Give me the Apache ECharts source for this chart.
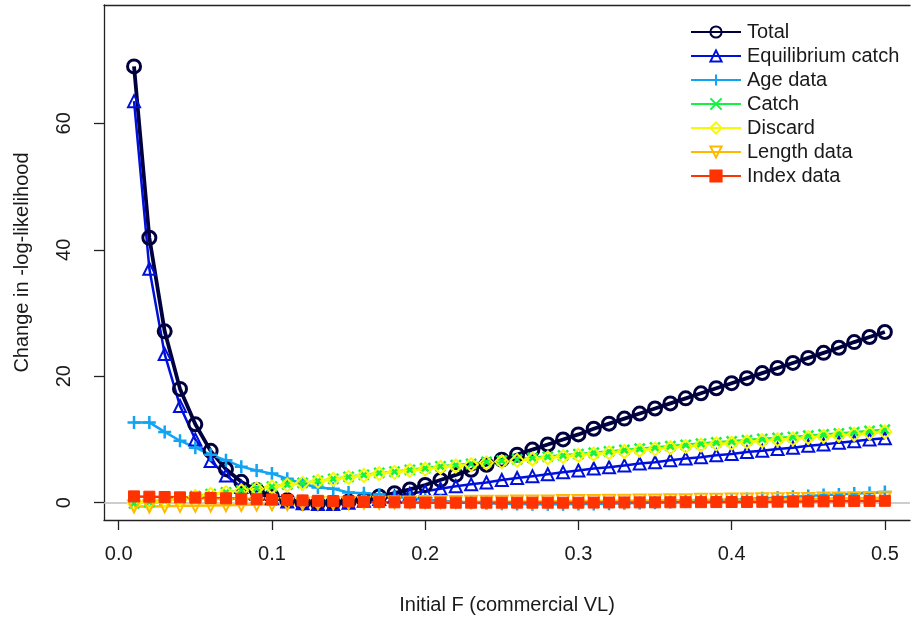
<!DOCTYPE html>
<html>
<head>
<meta charset="utf-8">
<script src="https://cdn.jsdelivr.net/npm/echarts@6/dist/echarts.min.js"></script>
<style>html,body{margin:0;padding:0;background:#fff}#c{width:911px;height:621px}</style>
</head>
<body>
<div id="c"></div>
<script>
const F = [0.01,0.02,0.03,0.04,0.05,0.06,0.07,0.08,0.09,0.10,
           0.11,0.12,0.13,0.14,0.15,0.16,0.17,0.18,0.19,0.20,
           0.21,0.22,0.23,0.24,0.25,0.26,0.27,0.28,0.29,0.30,
           0.31,0.32,0.33,0.34,0.35,0.36,0.37,0.38,0.39,0.40,
           0.41,0.42,0.43,0.44,0.45,0.46,0.47,0.48,0.49,0.50];
const total = [69.0,41.9,27.1,18.0,12.4,8.2,5.3,3.3,2.0,1.0,
               0.4,0.0,-0.1,0.0,0.2,0.5,1.0,1.5,2.1,2.8,
               3.6,4.4,5.2,6.0,6.8,7.6,8.4,9.2,10.0,10.8,
               11.7,12.5,13.3,14.1,14.9,15.7,16.5,17.3,18.1,18.9,
               19.7,20.5,21.3,22.1,22.9,23.7,24.5,25.4,26.2,27.0];
const equilibriumCatch = [63.5,37.0,23.5,15.3,10.0,6.6,4.3,2.5,1.4,0.7,
               0.2,-0.1,-0.2,-0.2,0.0,0.3,0.6,1.0,1.4,1.8,
               2.2,2.6,2.9,3.2,3.6,3.9,4.2,4.5,4.8,5.1,
               5.4,5.6,5.9,6.2,6.4,6.7,7.0,7.2,7.5,7.7,
               8.0,8.2,8.5,8.7,9.0,9.2,9.5,9.7,10.0,10.2];
const ageData = [12.7,12.7,11.2,9.8,8.7,7.6,6.7,5.7,5.1,4.6,
               3.8,3.0,2.4,2.2,1.6,1.5,1.3,0.95,0.7,0.5,
               0.3,0.15,0.0,-0.1,-0.15,-0.2,-0.25,-0.25,-0.25,-0.2,
               -0.2,-0.15,-0.1,-0.05,0.0,0.1,0.2,0.3,0.4,0.5,
               0.6,0.7,0.8,0.95,1.05,1.2,1.3,1.45,1.55,1.7];
const catchData = [-0.1,0.1,0.35,0.65,1.05,1.35,1.65,1.95,2.25,2.55,
               2.85,3.15,3.45,3.75,4.1,4.4,4.7,4.9,5.2,5.45,
               5.75,5.95,6.15,6.45,6.65,6.85,7.1,7.3,7.5,7.7,
               7.9,8.1,8.35,8.55,8.75,8.95,9.15,9.35,9.55,9.7,
               9.9,10.1,10.25,10.4,10.6,10.8,10.95,11.15,11.35,11.55];
const discard = [-0.1,0.1,0.3,0.6,1.0,1.3,1.6,1.9,2.2,2.5,
               2.8,3.1,3.4,3.7,4.0,4.3,4.6,4.8,5.1,5.3,
               5.6,5.8,6.0,6.3,6.5,6.7,6.9,7.1,7.3,7.5,
               7.7,7.9,8.1,8.3,8.5,8.7,8.9,9.1,9.3,9.4,
               9.6,9.8,9.95,10.1,10.3,10.5,10.65,10.8,11.0,11.2];
const lengthData = [-0.6,-0.6,-0.55,-0.5,-0.5,-0.45,-0.4,-0.35,-0.3,-0.25,
               -0.2,-0.15,-0.1,-0.1,-0.05,0.0,0.0,0.05,0.05,0.1,
               0.1,0.1,0.15,0.15,0.15,0.2,0.2,0.2,0.25,0.25,
               0.25,0.3,0.3,0.35,0.35,0.4,0.4,0.45,0.45,0.5,
               0.5,0.55,0.55,0.6,0.6,0.65,0.65,0.7,0.75,0.8];
const indexData = [1.0,0.95,0.9,0.85,0.8,0.75,0.7,0.62,0.55,0.5,
               0.42,0.36,0.3,0.25,0.2,0.15,0.1,0.06,0.03,0.0,
               0.0,0.0,0.0,0.0,0.0,0.0,0.0,0.0,0.0,0.0,
               0.02,0.03,0.04,0.05,0.06,0.07,0.08,0.09,0.1,0.11,
               0.12,0.14,0.16,0.18,0.2,0.22,0.24,0.26,0.28,0.3];
const seriesNames = ['Total','Equilibrium catch','Age data','Catch','Discard','Length data','Index data'];
const xTicks = [0, 0.1, 0.2, 0.3, 0.4, 0.5];
const yTicks = [0, 20, 40, 60];

const FONT = 'Liberation Sans, Arial, sans-serif';
const TXT = '#1a1a1a';
const AX = '#222';
const X_MIN = -0.0096, X_MAX = 0.5164, Y_MIN = -2.736, Y_MAX = 78.71;
const pairs = arr => F.map((f, i) => [f, arr[i]]);
const PLUS = 'path://M5,0L5,10M0,5L10,5';
const CROSS = 'path://M0,0L10,10M10,0L0,10';
const DOWNTRI = 'path://M0,0L10,0L5,8.66Z';

function mk(name, data, color, symbol, size, lw, bw, filled) {
  return {
    name, type: 'line', data: pairs(data), xAxisIndex: 0, yAxisIndex: 0,
    clip: false, symbol, symbolSize: size, showAllSymbol: true,
    lineStyle: { color, width: lw },
    itemStyle: { color: filled ? color : 'rgba(0,0,0,0)', borderColor: color, borderWidth: bw },
    emphasis: { disabled: true }
  };
}

const series = [
  mk(seriesNames[0], total, '#00003F', 'circle', 13, 3.8, 3, false),
  mk(seriesNames[1], equilibriumCatch, '#0010DB', 'triangle', 12, 2.5, 2, false),
  mk(seriesNames[2], ageData, '#10A4F2', PLUS, 13, 2.5, 2.5, false),
  mk(seriesNames[3], catchData, '#13F240', CROSS, 10, 2.5, 2.5, false),
  mk(seriesNames[4], discard, '#F6F905', 'diamond', 13, 2.5, 2, false),
  mk(seriesNames[5], lengthData, '#FFBA00', DOWNTRI, 12, 2.5, 2, false),
  mk(seriesNames[6], indexData, '#FF3300', 'rect', 11, 2.5, 1, true)
];
series[0].markLine = {
  silent: true, symbol: ['none', 'none'], label: { show: false },
  lineStyle: { color: '#bdbdbd', width: 1.5, type: 'solid' },
  data: [{ yAxis: 0 }],
  z: 1
};

const chart = echarts.init(document.getElementById('c'), null, { renderer: 'canvas' });
chart.setOption({
  animation: false,
  backgroundColor: '#fff',
  textStyle: { fontFamily: FONT },
  grid: { left: 104, top: 5, right: 1, bottom: 101, show: false },
  xAxis: [{
    type: 'value', min: X_MIN, max: X_MAX, position: 'bottom',
    name: 'Initial F (commercial VL)', nameLocation: 'middle', nameGap: 75,
    nameTextStyle: { fontSize: 20, color: TXT, fontFamily: FONT },
    axisLine: { show: true, onZero: false, lineStyle: { color: AX, width: 1.3 } },
    axisTick: { show: true, inside: false, length: 10, customValues: xTicks, lineStyle: { color: AX, width: 1.3 } },
    axisLabel: { fontSize: 20, color: TXT, fontFamily: FONT, margin: 24, customValues: xTicks, formatter: v => v.toFixed(1) },
    splitLine: { show: false }
  }, {
    type: 'value', min: X_MIN, max: X_MAX, position: 'top',
    axisLine: { show: true, onZero: false, lineStyle: { color: AX, width: 1.3 } },
    axisTick: { show: false }, axisLabel: { show: false }, splitLine: { show: false }
  }],
  yAxis: {
    type: 'value', min: Y_MIN, max: Y_MAX, position: 'left',
    name: 'Change in -log-likelihood', nameLocation: 'middle', nameGap: 72, nameRotate: 90,
    nameTextStyle: { fontSize: 20, color: TXT, fontFamily: FONT },
    axisLine: { show: true, onZero: false, lineStyle: { color: AX, width: 1.3 } },
    axisTick: { show: true, inside: false, length: 10, customValues: yTicks, lineStyle: { color: AX, width: 1.3 } },
    axisLabel: { fontSize: 20, color: TXT, fontFamily: FONT, margin: 30, rotate: 90, customValues: yTicks, formatter: v => String(v) },
    splitLine: { show: false }
  },
  legend: {
    orient: 'vertical', left: 690, top: 22, padding: 0,
    itemWidth: 50, itemHeight: 14, itemGap: 4,
    textStyle: { fontSize: 20, color: TXT, fontFamily: FONT, padding: [0, 0, 0, 1] },
    data: seriesNames,
    selectedMode: false
  },
  series
});
</script>
</body>
</html>
